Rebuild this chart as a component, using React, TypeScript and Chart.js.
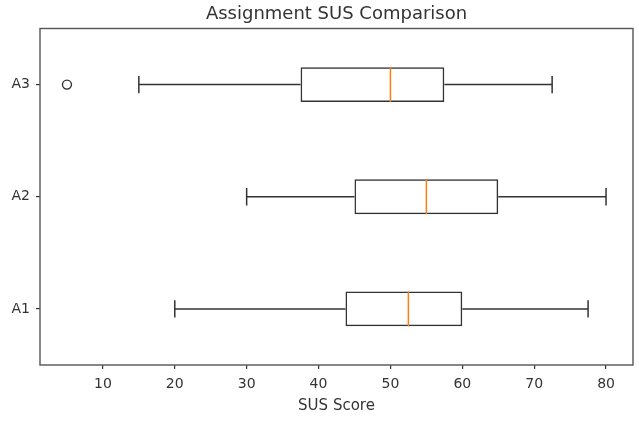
import React, { useEffect, useRef } from "react";
import { Chart, registerables } from "chart.js";

Chart.register(...registerables);

// Assignments, listed top to bottom
const categories = ["A3", "A2", "A1"];
// Five-number summaries per assignment
const whiskerLow = [15, 30, 20];
const q1 = [37.5, 45, 43.75];
const medians = [50, 55, 52.5];
const q3 = [57.5, 65, 60];
const whiskerHigh = [72.5, 80, 77.5];
// Points beyond the whiskers
const outlierCategory = ["A3"];
const outlierValue = [5];
// Score axis
const xTicks = [10, 20, 30, 40, 50, 60, 70, 80];
const xMin = 1.25;
const xMax = 83.75;
const chartTitle = "Assignment SUS Comparison";

const INK = "#333333";
const MEDIAN = "#ff7f0e";
const FONT = "'DejaVu Sans', sans-serif";

const boxPlotPlugin = {
  id: "boxParts",
  afterDatasetsDraw(chart: any) {
    const { ctx, chartArea, scales } = chart;
    const xs = scales.x;
    const ys = scales.y;
    const meta = chart.getDatasetMeta(0);
    ctx.save();
    categories.forEach((_, i) => {
      const bar: any = meta.data[i];
      const cy = ys.getPixelForValue(i);
      const half = bar.height / 2;
      const capHalf = half / 2;
      const pLow = xs.getPixelForValue(whiskerLow[i]);
      const pQ1 = xs.getPixelForValue(q1[i]);
      const pQ3 = xs.getPixelForValue(q3[i]);
      const pHigh = xs.getPixelForValue(whiskerHigh[i]);
      const pMed = xs.getPixelForValue(medians[i]);
      ctx.strokeStyle = INK;
      ctx.lineWidth = 1.5;
      ctx.beginPath();
      // whiskers
      ctx.moveTo(pLow, cy);
      ctx.lineTo(pQ1, cy);
      ctx.moveTo(pQ3, cy);
      ctx.lineTo(pHigh, cy);
      // caps
      ctx.moveTo(pLow, cy - capHalf);
      ctx.lineTo(pLow, cy + capHalf);
      ctx.moveTo(pHigh, cy - capHalf);
      ctx.lineTo(pHigh, cy + capHalf);
      ctx.stroke();
      // median
      ctx.strokeStyle = MEDIAN;
      ctx.beginPath();
      ctx.moveTo(pMed, cy - half);
      ctx.lineTo(pMed, cy + half);
      ctx.stroke();
    });
    // frame around the plotting area
    ctx.strokeStyle = "#555555";
    ctx.lineWidth = 1.4;
    ctx.strokeRect(
      chartArea.left,
      chartArea.top,
      chartArea.right - chartArea.left,
      chartArea.bottom - chartArea.top
    );
    // title centred over the plotting area
    ctx.fillStyle = INK;
    ctx.font = `18px ${FONT}`;
    ctx.textAlign = "center";
    ctx.textBaseline = "alphabetic";
    ctx.fillText(chartTitle, (chartArea.left + chartArea.right) / 2, 18.5);
    ctx.restore();
  },
};

export default function App() {
  const canvasRef = useRef<HTMLCanvasElement | null>(null);

  useEffect(() => {
    if (!canvasRef.current) return;
    const chart = new Chart(canvasRef.current, {
      type: "bar",
      data: {
        labels: categories,
        datasets: [
          {
            type: "bar",
            data: categories.map((_, i) => [q1[i], q3[i]]) as any,
            backgroundColor: "rgba(255,255,255,0)",
            borderColor: INK,
            borderWidth: 1.5,
            borderSkipped: false,
            barPercentage: 0.31,
            categoryPercentage: 1,
          } as any,
          {
            type: "scatter",
            data: outlierCategory.map((c, i) => ({ x: outlierValue[i], y: c })) as any,
            pointStyle: "circle",
            pointRadius: 4.5,
            pointBorderWidth: 1.4,
            pointBorderColor: INK,
            pointBackgroundColor: "rgba(255,255,255,0)",
          } as any,
        ],
      },
      options: {
        indexAxis: "y",
        responsive: false,
        animation: false,
        layout: { padding: { left: 0, right: 6, top: 28.5, bottom: 0 } },
        plugins: {
          legend: { display: false },
          tooltip: { enabled: false },
          title: { display: false },
        },
        scales: {
          x: {
            type: "linear",
            min: xMin,
            max: xMax,
            afterBuildTicks: (scale: any) => {
              scale.ticks = xTicks.map((v) => ({ value: v }));
            },
            afterFit: (scale: any) => {
              scale.height = 62;
            },
            grid: {
              display: true,
              drawOnChartArea: false,
              drawTicks: true,
              tickLength: 4,
              color: INK,
              lineWidth: 1.2,
            },
            border: { display: false },
            ticks: {
              color: INK,
              font: { family: FONT, size: 14 },
              padding: 7,
              maxRotation: 0,
            },
            title: {
              display: true,
              text: "SUS Score",
              color: INK,
              font: { family: FONT, size: 15 },
              padding: { top: 0, bottom: 12 },
            },
          },
          y: {
            type: "category",
            offset: true,
            afterFit: (scale: any) => {
              scale.width = 40;
            },
            grid: {
              display: true,
              drawOnChartArea: false,
              drawTicks: true,
              tickLength: 4,
              offset: false,
              color: INK,
              lineWidth: 1.2,
            },
            border: { display: false },
            ticks: {
              color: INK,
              font: { family: FONT, size: 14 },
              padding: 6,
            },
          },
        },
      } as any,
      plugins: [boxPlotPlugin],
    });
    return () => chart.destroy();
  }, []);

  return (
    <div style={{ position: "fixed", left: 0, top: 0, width: 639, height: 427, background: "#fff" }}>
      <canvas ref={canvasRef} width={639} height={427} />
    </div>
  );
}
